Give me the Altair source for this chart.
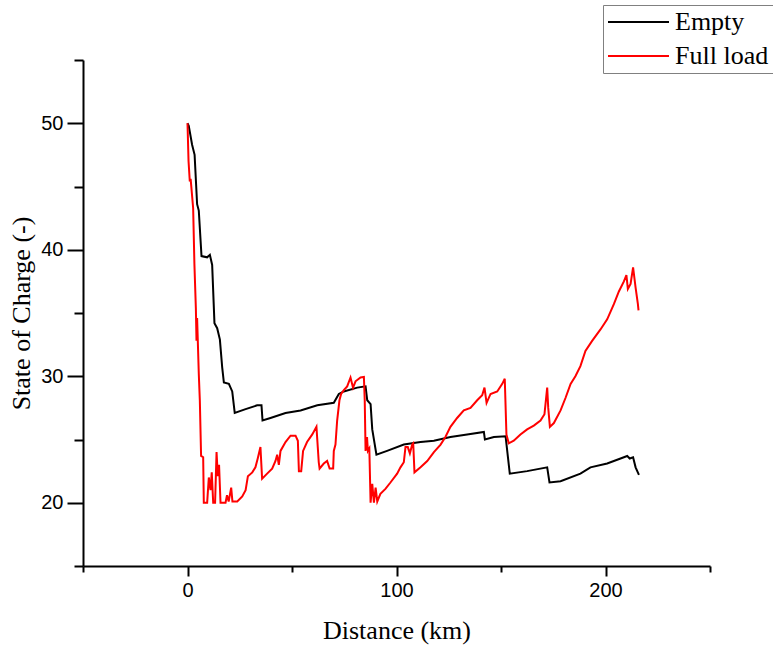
import altair as alt
import pandas as pd

# ---- data ----
empty_x = [0, 0.6, 2.2, 3.4, 4.6, 5.4, 6.7, 9.4, 10.7, 11.8, 12.9, 14.2, 15.5, 16.6, 17.4,
           19.8, 21.4, 22.6, 27.8, 33.3, 35.4, 35.9, 39.7, 46.9, 54.1, 62.1, 70.0, 72.4,
           74.8, 81.2, 85.2, 86.0, 87.6, 88.4, 90.4, 95.5, 103.5, 111.5, 117.9, 125.8,
           133.8, 141.8, 142.3, 146.6, 152.2, 154.2, 162.5, 172.1, 173.2, 178.5, 188.0,
           192.8, 200.8, 207.2, 210.4, 211.6, 213.2, 214.4, 216.0]
empty_y = [50, 49.8, 48.3, 47.5, 43.6, 43.1, 39.5, 39.4, 39.6, 38.8, 34.2, 33.8, 32.9, 30.7,
           29.5, 29.4, 28.8, 27.1, 27.4, 27.7, 27.7, 26.5, 26.7, 27.1, 27.3, 27.7, 27.9,
           28.6, 28.8, 29.1, 29.2, 28.1, 27.8, 25.8, 23.8, 24.1, 24.6, 24.8, 24.9, 25.2,
           25.4, 25.6, 25.0, 25.2, 25.25, 22.3, 22.5, 22.8, 21.6, 21.7, 22.3, 22.8, 23.1,
           23.5, 23.7, 23.5, 23.6, 22.8, 22.2]

full_x = [0, 0.5, 1.1, 1.5, 2.7, 3.3, 4.0, 4.3, 4.6, 5.4, 5.9, 6.5, 7.5, 7.8, 9.4, 10.2,
          11.0, 11.6, 12.3, 13.2, 13.9, 14.5, 15.1, 15.8, 18.2, 18.9, 19.7, 20.9, 21.5,
          23.8, 26.2, 27.8, 28.9, 31.0, 32.5, 33.6, 34.9, 35.7, 38.1, 40.5, 42.1, 42.9,
          43.7, 44.5, 46.9, 49.3, 51.7, 52.8, 53.3, 54.4, 55.3, 57.2, 59.7, 61.7, 62.8,
          63.2, 65.2, 66.8, 68.0, 69.7, 70.0, 70.8, 71.6, 72.7, 73.5, 74.8, 76.4, 78.0,
          79.2, 80.4, 82.8, 84.4, 84.8, 85.2, 85.9, 86.3, 87.0, 87.6, 88.4, 89.2, 90.0,
          90.8, 92.3, 94.7, 97.1, 100.3, 101.9, 103.5, 104.3, 105.4, 106.4, 107.5, 108.0,
          108.6, 111.5, 114.7, 117.9, 121.1, 123.4, 125.8, 129.0, 132.2, 135.4, 138.6,
          141.0, 142.1, 143.1, 145.0, 148.2, 150.6, 151.8, 152.6, 153.7, 156.1, 159.3,
          162.5, 165.7, 168.9, 170.8, 172.1, 172.6, 173.4, 175.3, 178.5, 180.9, 183.3,
          185.6, 188.0, 190.4, 193.6, 197.6, 200.8, 204.0, 206.4, 208.8, 210.0, 210.7,
          212.0, 213.2, 214.4, 215.5, 215.8]
full_y = [50, 47, 45.4, 45.6, 43.3, 38.9, 35.4, 32.8, 34.6, 30.2, 28.1, 23.7, 23.6, 20.0,
          20.0, 22.0, 21.0, 22.4, 20.0, 20.0, 24.0, 22.1, 23.0, 20.0, 20.0, 20.6, 20.1,
          21.2, 20.1, 20.1, 20.5, 21.0, 22.1, 22.4, 22.8, 23.5, 24.4, 21.9, 22.3, 22.7,
          23.3, 23.8, 23.0, 24.1, 24.8, 25.3, 25.3, 24.9, 22.5, 22.5, 24.1, 24.8, 25.4,
          26.0, 23.2, 22.7, 23.1, 23.3, 22.7, 22.7, 24.1, 24.6, 26.5, 28.1, 28.6, 28.9,
          29.2, 29.9, 29.1, 29.6, 29.9, 29.95, 28.1, 24.1, 25.2, 24.1, 24.3, 20.0, 21.5,
          20.0, 21.2, 20.1, 20.7, 21.1, 21.6, 22.3, 22.8, 23.2, 24.4, 24.4, 23.9, 24.6,
          24.7, 22.4, 22.8, 23.3, 24.0, 24.6, 25.2, 26.0, 26.7, 27.3, 27.5, 28.1, 28.5,
          29.1, 27.9, 28.6, 28.8, 29.4, 29.8, 25.4, 24.7, 24.9, 25.4, 25.8, 26.1, 26.5,
          27.0, 29.1, 27.5, 26.0, 26.3, 27.3, 28.3, 29.4, 30.0, 30.8, 32.0, 32.8, 33.7,
          34.5, 35.7, 36.7, 37.5, 38.0, 36.9, 37.3, 38.6, 37.0, 35.7, 35.2]

series_names = ["Empty", "Full load"]
series_colors = ["#000000", "#ff0000"]
x_ticks = [-50, 0, 50, 100, 150, 200, 250]
y_ticks = [15, 20, 25, 30, 35, 40, 45, 50, 55]

rows = []
for i, (xv, yv) in enumerate(zip(empty_x, empty_y)):
    rows.append({"d": xv, "soc": yv, "s": series_names[0], "i": i})
for i, (xv, yv) in enumerate(zip(full_x, full_y)):
    rows.append({"d": xv, "soc": yv, "s": series_names[1], "i": i})
df = pd.DataFrame(rows)

chart = alt.Chart(df).mark_line(strokeWidth=2).encode(
    x=alt.X("d:Q", scale=alt.Scale(domain=[-50, 250], nice=False, zero=False),
            axis=alt.Axis(title="Distance (km)", values=x_ticks,
                          labelExpr="datum.value % 100 == 0 ? datum.label : ''",
                          tickSize={"condition": {"test": "datum.value % 100 == 0", "value": 10}, "value": 6},
                          titlePadding=17)),
    y=alt.Y("soc:Q", scale=alt.Scale(domain=[15, 55], nice=False, zero=False),
            axis=alt.Axis(title="State of Charge (-)", values=y_ticks,
                          labelExpr="datum.value % 10 == 0 ? datum.label : ''",
                          tickSize={"condition": {"test": "datum.value % 10 == 0", "value": 16}, "value": 9},
                          titlePadding=6)),
    color=alt.Color("s:N", scale=alt.Scale(domain=series_names, range=series_colors),
                    legend=alt.Legend(title=None, orient="none", legendX=520, legendY=-55,
                                      symbolType="stroke", symbolSize=3721, symbolStrokeWidth=2,
                                      clipHeight=26,
                                      labelFont="Liberation Serif", labelFontSize=26,
                                      labelColor="#000000", labelOffset=5, rowPadding=8,
                                      strokeColor="#808080", fillColor="#ffffff", padding=4)),
    order=alt.Order("i:Q"),
).properties(
    width=627, height=506,
    autosize=alt.AutoSizeParams(type="none"),
    padding={"left": 83, "top": 60, "right": 63, "bottom": 82},
).configure_view(stroke=None).configure_axis(
    domainColor="#000000", domainWidth=2, tickColor="#000000", tickWidth=2,
    grid=False, labelFont="Liberation Sans", labelFontSize=20, labelColor="#000000",
    labelPadding=4, titleFont="Liberation Serif", titleFontSize=26,
    titleFontWeight="normal", titleColor="#000000",
)

chart.save("out.html", embed_options={"renderer": "svg", "actions": False})
